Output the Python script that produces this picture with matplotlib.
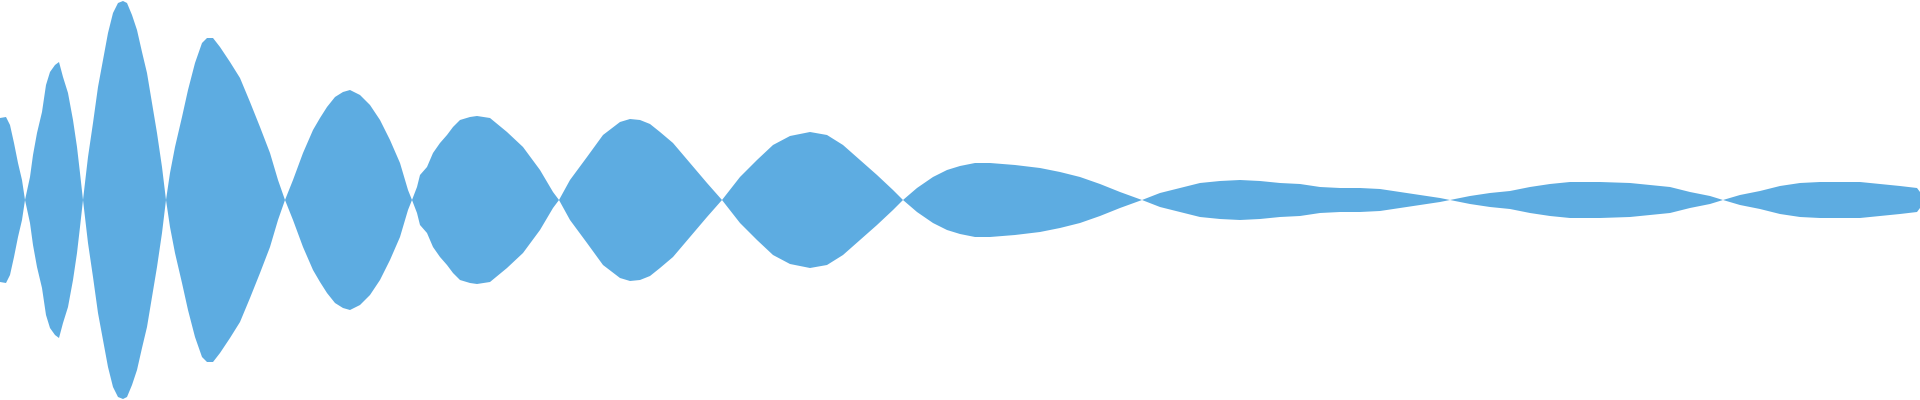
import numpy as np
import matplotlib
matplotlib.use('Agg')
import matplotlib.pyplot as plt

# 波形包络：位置(帧) 与 半幅值(像素读数, 满幅 = 200)
frames = [0, 6, 10, 14, 18, 22, 25, 30, 33, 37, 42, 46, 50, 55, 59, 63, 68, 73, 77, 80,
          83, 88, 93, 98, 103, 108, 113, 118, 123, 127, 132, 137, 142, 147, 152, 157, 162,
          166, 170, 175, 182, 188, 195, 202, 207, 213, 220, 230, 240, 250, 260, 270, 278,
          285, 293, 303, 313, 320, 327, 335, 343, 350, 360, 370, 380, 390, 400, 408,
          412, 417, 420, 427, 433, 440, 447, 453, 460, 470, 477, 490, 507, 523, 540, 553,
          559, 570, 587, 603, 620, 630, 640, 650, 660, 673, 690, 707,
          722, 740, 757, 773, 790, 810, 827, 843, 860, 877, 893,
          903, 917, 933, 947, 960, 975, 990, 1015, 1040, 1060, 1080, 1100, 1120,
          1142, 1160, 1180, 1200, 1220, 1240, 1260, 1280, 1300, 1320, 1340, 1360, 1380,
          1400, 1420, 1440,
          1450, 1470, 1490, 1510, 1530, 1550, 1570, 1600, 1630, 1650, 1670, 1690, 1710,
          1723, 1740, 1760, 1780, 1800, 1820, 1860, 1880, 1900, 1917, 1920]
envelope = [82, 83, 75, 57, 37, 20, 0, 23, 45, 67, 88, 115, 128, 135, 138, 123, 107, 80, 53, 27,
            0, 43, 77, 113, 140, 167, 187, 197, 199, 197, 185, 170, 148, 127, 97, 67, 33,
            0, 27, 53, 83, 110, 137, 157, 162, 162, 153, 138, 122, 98, 73, 47, 20,
            0, 20, 47, 70, 82, 93, 103, 108, 110, 105, 95, 80, 60, 37, 10,
            0, 13, 25, 33, 47, 57, 65, 73, 80, 83, 84, 82, 68, 53, 30, 8,
            0, 20, 43, 65, 78, 81, 80, 76, 68, 57, 37, 17,
            0, 23, 40, 55, 64, 68, 65, 55, 40, 25, 10,
            0, 12, 23, 30, 34, 37, 37, 35, 32, 28, 23, 16, 8,
            0, 7, 12, 17, 19, 20, 19, 17, 16, 13, 12, 12, 11,
            8, 5, 2,
            0, 4, 7, 9, 13, 16, 18, 18, 17, 15, 13, 8, 4,
            0, 5, 9, 14, 17, 18, 18, 16, 14, 12, 8]

x = np.array(frames)
amp = np.array(envelope) / 200.0

fig = plt.figure(figsize=(19.2, 4), dpi=100)
ax = fig.add_axes([0, 0, 1, 1])
ax.fill_between(x, -amp, amp, color='#5DACE1', linewidth=0)
ax.set_xlim(0, 1920)
ax.set_ylim(-1, 1)
ax.axis('off')

fig.savefig('out.png', dpi=100, facecolor='white')
